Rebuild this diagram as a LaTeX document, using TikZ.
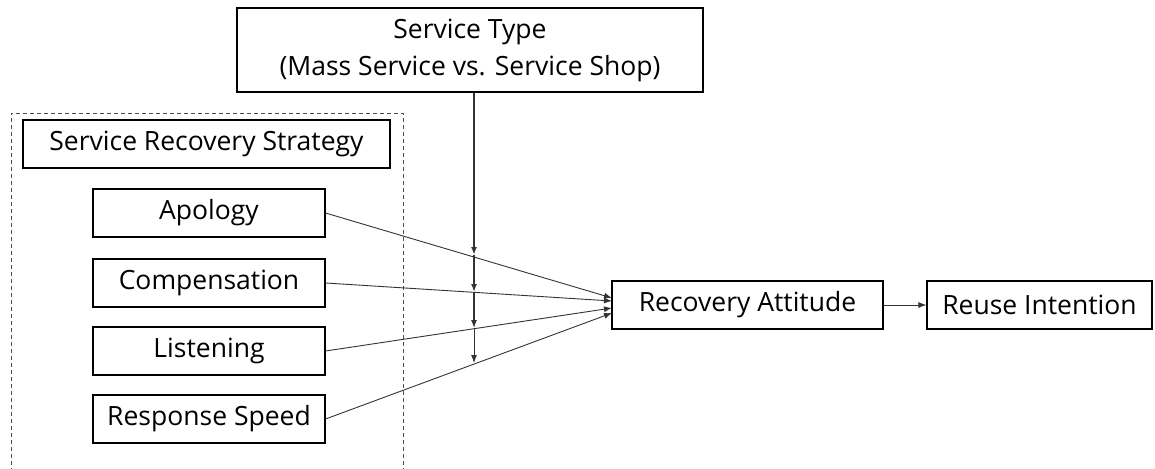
\documentclass[tikz,border=0pt]{standalone}
\usepackage{fontspec}
\setmainfont{Open Sans}
\usetikzlibrary{arrows.meta}
\begin{document}
\begin{tikzpicture}[x=1pt,y=-1pt,
  box/.style={draw, line width=1.1pt, inner sep=0pt, font=\fontsize{26.5}{37}\selectfont, align=center},
  arr/.style={-{Latex[length=8pt,width=6pt]}, line width=0.9pt, draw=black!80},
  dashbox/.style={draw=black!70, line width=0.9pt, dash pattern=on 4pt off 3pt}]
\useasboundingbox (0,0) rectangle (1155,468);
\node[box, minimum width=466pt, minimum height=84pt] (st) at (470,50) {Service Type\\(Mass Service vs. Service Shop)};
\draw[dashbox] (11,472) -- (11,113) -- (403,113) -- (403,472);
\node[box, minimum width=367pt, minimum height=48pt] (srs) at (206.5,144) {Service Recovery Strategy};
\node[box, minimum width=232pt, minimum height=48pt] (ap) at (209,213) {Apology};
\node[box, minimum width=232pt, minimum height=48pt] (co) at (209,283) {Compensation};
\node[box, minimum width=232pt, minimum height=48pt] (li) at (209,351) {Listening};
\node[box, minimum width=232pt, minimum height=48pt] (rs) at (209,419) {Response Speed};
\node[box, minimum width=271pt, minimum height=48pt] (ra) at (747.5,305) {Recovery Attitude};
\node[box, minimum width=225pt, minimum height=48pt] (ri) at (1039.5,305) {Reuse Intention};
\coordinate (ra1) at (612,298);
\coordinate (ra2) at (612,301);
\coordinate (ra3) at (612,308);
\coordinate (ra4) at (612,313);
\coordinate (m1) at (474,255);
\coordinate (m2) at (474,292);
\coordinate (m3) at (474,328);
\coordinate (m4) at (474,363);
\draw[arr] (ap.east) -- (ra1);
\draw[arr] (co.east) -- (ra2);
\draw[arr] (li.east) -- (ra3);
\draw[arr] (rs.east) -- (ra4);
\draw[arr, line width=2pt] (st.south -| m1) -- (m1);
\draw[arr, line width=1.5pt] (m1) -- (m2);
\draw[arr, line width=1.1pt] (m2) -- (m3);
\draw[arr] (m3) -- (m4);
\draw[arr] (ra.east) -- (ri.west);
\end{tikzpicture}
\end{document}
